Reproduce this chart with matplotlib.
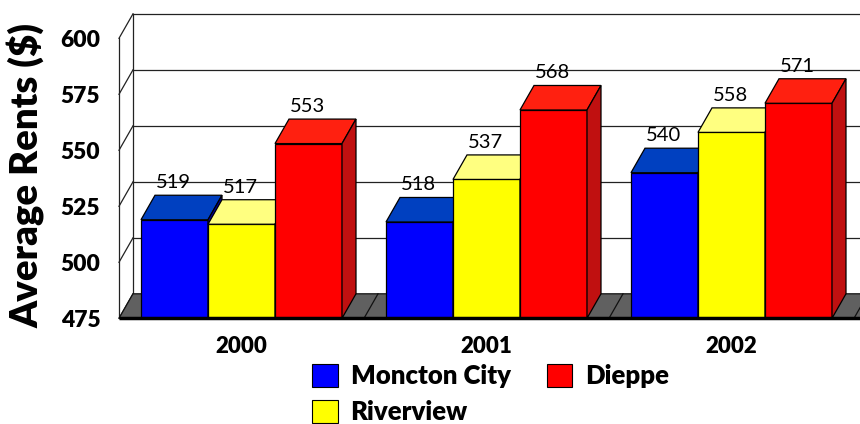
import matplotlib
matplotlib.use('Agg')
import matplotlib.pyplot as plt
from matplotlib.patches import Polygon, Rectangle

# ---- data ----
years = ['2000', '2001', '2002']
series_names = ['Moncton City', 'Riverview', 'Dieppe']
moncton = [519, 518, 540]
riverview = [517, 537, 558]
dieppe = [553, 568, 571]
y_ticks = [475, 500, 525, 550, 575, 600]

plt.rcParams['font.family'] = ['Lato', 'DejaVu Sans']

W, H = 860, 424
fig = plt.figure(figsize=(W / 100, H / 100), dpi=100)
ax = fig.add_axes([119 / W, 1 - 318.3 / H, 735 / W, 280 / H])
ax.set_xlim(-0.5, 2.5)
ax.set_ylim(y_ticks[0], y_ticks[-1])
ax.patch.set_visible(False)
for s in ax.spines.values():
    s.set_visible(False)

# 3-D depth in data units
dx = 14 / 245
dy = 24.5 / 2.24
base = y_ticks[0]
top = y_ticks[-1]
xl, xr = -0.5, 2.5

line_kw = dict(color='#222222', lw=0.9, clip_on=False)

# back wall gridlines
for t in y_ticks[1:]:
    ax.plot([xl + dx, xr + dx + 0.2], [t + dy, t + dy], zorder=1, **line_kw)
# back wall left edge
ax.plot([xl + dx, xl + dx], [base + dy, top + dy], zorder=1, **line_kw)
# left wall diagonals
for t in y_ticks:
    ax.plot([xl, xl + dx], [t, t + dy], zorder=1, **line_kw)
# front left edge
ax.plot([xl, xl], [base, top], zorder=1, **line_kw)

# floor
floor = Polygon([(xl, base), (xr + 0.2, base), (xr + 0.2 + dx, base + dy), (xl + dx, base + dy)],
                closed=True, facecolor='#606060', edgecolor='#111111', lw=0.9,
                zorder=2, clip_on=False)
ax.add_patch(floor)
for b in [0.5, 1.5, 2.5]:
    ax.plot([b, b + dx], [base, base + dy], color='#111111', lw=0.9, zorder=2, clip_on=False)

front_colors = ['#0000FF', '#FFFF00', '#FF0000']
top_colors = ['#0040C0', '#FFFF80', '#FF2010']
side_colors = ['#0000A0', '#C0C000', '#C01010']

all_series = [moncton, riverview, dieppe]
w = 67 / 245
z = 3
for i in range(len(years)):
    for j, vals in enumerate(all_series):
        v = vals[i]
        x0 = i - 1.5 * w + j * w
        ax.bar(x0 + w / 2, v - base, bottom=base, width=w, color=front_colors[j],
               edgecolor='black', lw=0.9, zorder=z, clip_on=False)
        ax.add_patch(Polygon([(x0, v), (x0 + w, v), (x0 + w + dx, v + dy), (x0 + dx, v + dy)],
                             closed=True, facecolor=top_colors[j], edgecolor='black',
                             lw=0.9, zorder=z + 0.1, clip_on=False))
        ax.add_patch(Polygon([(x0 + w, base), (x0 + w + dx, base + dy), (x0 + w + dx, v + dy), (x0 + w, v)],
                             closed=True, facecolor=side_colors[j], edgecolor='black',
                             lw=0.9, zorder=z + 0.2, clip_on=False))
        ax.annotate(str(v), (x0 + w / 2, v + dy), xytext=(-1, 3), textcoords='offset points',
                    ha='center', va='bottom', fontsize=14.5, zorder=50)
        z += 1

# front bottom edge
ax.plot([xl, xr + 0.2], [base, base], color='black', lw=2.5, zorder=40, clip_on=False, solid_capstyle='butt')

ax.set_yticks(y_ticks)
ax.set_yticklabels([str(t) for t in y_ticks], fontsize=16.5, fontweight='heavy')
ax.set_xticks(range(len(years)))
ax.set_xticklabels(years, fontsize=16, fontweight='heavy')
ax.tick_params(axis='y', length=0, pad=13.5)
ax.tick_params(axis='x', length=0, pad=13)

fig.text(27 / W, 1 - 176 / H, 'Average Rents ($)', rotation=90, fontsize=27.5,
         fontweight='heavy', ha='center', va='center')

handles = [Rectangle((0, 0), 1, 1, facecolor=front_colors[k], edgecolor='black', lw=0.8)
           for k in range(3)]
fig.legend(handles, series_names, ncol=2, loc='upper left',
           bbox_to_anchor=(312 / W, 1 - 364 / H), frameon=False,
           prop={'size': 18.5, 'weight': 'heavy'}, handlelength=1.0, handleheight=1.0,
           handletextpad=0.5, columnspacing=1.4, labelspacing=0.45,
           borderpad=0, borderaxespad=0)

fig.savefig('out.png', dpi=100)
